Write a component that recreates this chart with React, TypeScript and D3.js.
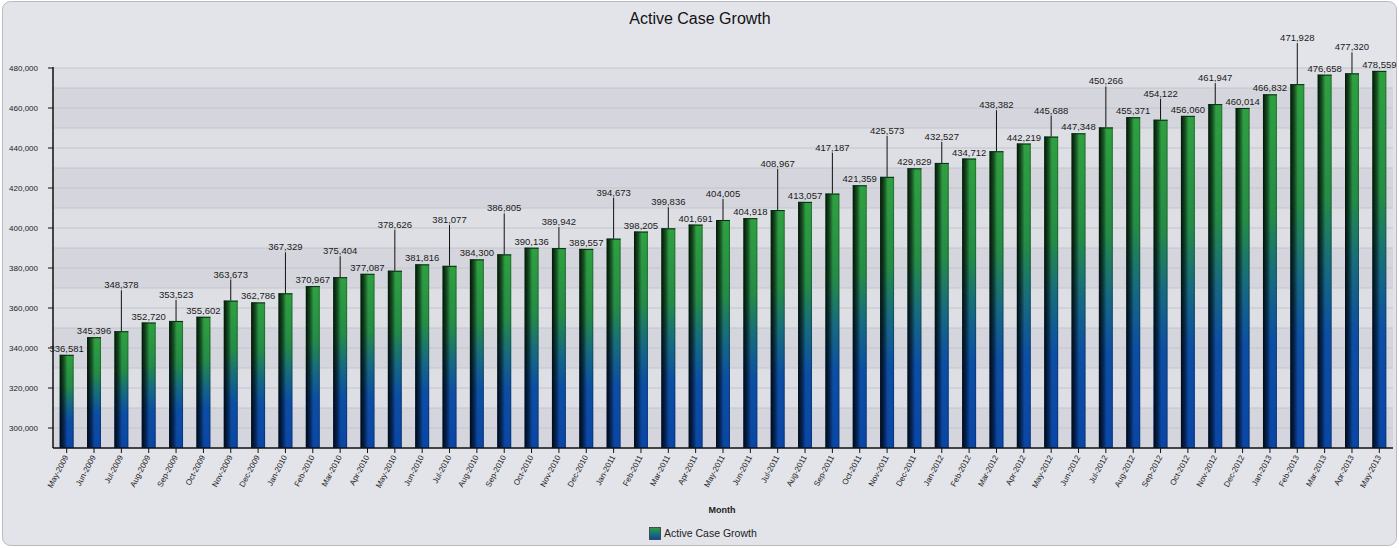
import React from "react";
import * as d3 from "d3";

const months: string[] = [
  "May-2009","Jun-2009","Jul-2009","Aug-2009","Sep-2009","Oct-2009","Nov-2009","Dec-2009",
  "Jan-2010","Feb-2010","Mar-2010","Apr-2010","May-2010","Jun-2010","Jul-2010","Aug-2010","Sep-2010","Oct-2010","Nov-2010","Dec-2010",
  "Jan-2011","Feb-2011","Mar-2011","Apr-2011","May-2011","Jun-2011","Jul-2011","Aug-2011","Sep-2011","Oct-2011","Nov-2011","Dec-2011",
  "Jan-2012","Feb-2012","Mar-2012","Apr-2012","May-2012","Jun-2012","Jul-2012","Aug-2012","Sep-2012","Oct-2012","Nov-2012","Dec-2012",
  "Jan-2013","Feb-2013","Mar-2013","Apr-2013","May-2013",
];

const activeCases: number[] = [
  336581, 345396, 348378, 352720, 353523, 355602, 363673, 362786,
  367329, 370967, 375404, 377087, 378626, 381816, 381077, 384300, 386805, 390136, 389942, 389557,
  394673, 398205, 399836, 401691, 404005, 404918, 408967, 413057, 417187, 421359, 425573, 429829,
  432527, 434712, 438382, 442219, 445688, 447348, 450266, 455371, 454122, 456060, 461947, 460014,
  466832, 471928, 476658, 477320, 478559,
];

// label stacking tier (0 = directly on the bar, 1/2 = lifted with leader line)
const labelTier: number[] = [
  0, 0, 2, 0, 1, 0, 1, 0,
  2, 0, 1, 0, 2, 0, 2, 0, 2, 0, 1, 0,
  2, 0, 1, 0, 1, 0, 2, 0, 2, 0, 2, 0,
  1, 0, 2, 0, 1, 0, 2, 0, 1, 0, 1, 0,
  0, 2, 0, 1, 0,
];

const yTicks: number[] = [300000, 320000, 340000, 360000, 380000, 400000, 420000, 440000, 460000, 480000];

const title = "Active Case Growth";
const xTitle = "Month";
const seriesName = "Active Case Growth";

const W = 1399;
const H = 548;
const plot = { left: 53, right: 1393, top: 68, bottom: 448 };
const FONT = "'Liberation Sans', Arial, sans-serif";

export default function App() {
  const x = d3.scaleBand<string>().domain(months).range([plot.left, plot.right]).paddingInner(0.49).paddingOuter(0.245);
  const y = d3.scaleLinear().domain([290000, 480000]).range([plot.bottom, plot.top]);
  const fmt = d3.format(",");
  const bands = d3.range(290000, 480000, 10000);
  const lifts = [0, 20, 40];

  return (
    <svg width={W} height={H} style={{ position: "absolute", left: 0, top: 0 }}>
      <defs>
        <linearGradient id="barV" x1="0" y1="0" x2="0" y2="1">
          <stop offset="0%" stopColor="#2fa040" />
          <stop offset="33%" stopColor="#248c46" />
          <stop offset="52%" stopColor="#166a80" />
          <stop offset="70%" stopColor="#0c4ea4" />
          <stop offset="100%" stopColor="#0a46a6" />
        </linearGradient>
        <linearGradient id="barH" x1="0" y1="0" x2="1" y2="0">
          <stop offset="0%" stopColor="#000" stopOpacity="0.88" />
          <stop offset="30%" stopColor="#000" stopOpacity="0.5" />
          <stop offset="55%" stopColor="#000" stopOpacity="0" />
          <stop offset="88%" stopColor="#000" stopOpacity="0" />
          <stop offset="100%" stopColor="#000" stopOpacity="0.35" />
        </linearGradient>
        <linearGradient id="legendG" x1="0" y1="0" x2="0" y2="1">
          <stop offset="0%" stopColor="#2f9d3f" />
          <stop offset="100%" stopColor="#0a46a6" />
        </linearGradient>
      </defs>
      <rect x={0} y={0} width={W} height={H} fill="#ffffff" />
      <rect x={2.5} y={1.5} width={W - 5} height={H - 4} rx={8} fill="#e3e4ea" stroke="#b9bac0" />

      {/* plot bands */}
      {bands.map((b) => (
        <rect key={b} x={plot.left} y={y(b + 10000)} width={plot.right - plot.left} height={y(b) - y(b + 10000)}
          fill={Math.floor((b - 290000) / 20000) % 2 === 0 ? "#d5d6dd" : "#dedfe5"} />
      ))}
      {bands.map((b) => (
        <line key={"g" + b} x1={plot.left} x2={plot.right} y1={y(b + 10000)} y2={y(b + 10000)} stroke="#c3c4cc" strokeWidth={1} />
      ))}

      <text x={700} y={24} textAnchor="middle" fontFamily={FONT} fontSize={16} fill="#111">{title}</text>

      {/* bars */}
      {months.map((m, i) => {
        const bx = x(m)!;
        const bw = x.bandwidth();
        const top = y(activeCases[i]);
        return (
          <g key={m}>
            <rect x={bx} y={top} width={bw} height={plot.bottom - top} fill="url(#barV)" />
            <rect x={bx} y={top} width={bw} height={plot.bottom - top} fill="url(#barH)" />
            <line x1={bx} x2={bx + bw} y1={top + 0.5} y2={top + 0.5} stroke="#0c2a18" strokeWidth={1} />
          </g>
        );
      })}

      {/* axes */}
      <line x1={plot.left} x2={plot.left} y1={plot.top - 1} y2={plot.bottom} stroke="#111" strokeWidth={1.5} />
      <line x1={plot.left} x2={plot.right} y1={plot.bottom} y2={plot.bottom} stroke="#111" strokeWidth={1.5} />
      {yTicks.map((t) => (
        <g key={t}>
          <line x1={plot.left - 5} x2={plot.left} y1={y(t)} y2={y(t)} stroke="#111" />
          <text x={plot.left - 15} y={y(t) + 3} textAnchor="end" fontFamily={FONT} fontSize={8} fill="#222">{fmt(t)}</text>
        </g>
      ))}
      {months.map((m) => {
        const cx = x(m)! + x.bandwidth() / 2;
        return (
          <g key={"x" + m}>
            <line x1={cx} x2={cx} y1={plot.bottom} y2={plot.bottom + 5} stroke="#111" />
            <text transform={`translate(${cx + 2},${plot.bottom + 9}) rotate(-62)`} textAnchor="end" fontFamily={FONT} fontSize={8} fill="#222">{m}</text>
          </g>
        );
      })}

      {/* value labels */}
      {months.map((m, i) => {
        const cx = x(m)! + x.bandwidth() / 2;
        const top = y(activeCases[i]);
        const lift = lifts[labelTier[i]];
        const base = top - 3 - lift;
        return (
          <g key={"l" + m}>
            {lift > 0 && <line x1={cx} x2={cx} y1={top} y2={base + 2} stroke="#111" strokeWidth={1} />}
            <text x={cx} y={base} textAnchor="middle" fontFamily={FONT} fontSize={9.5} fill="#1a1a1a">{fmt(activeCases[i])}</text>
          </g>
        );
      })}

      <text x={722} y={513} textAnchor="middle" fontFamily={FONT} fontSize={9} fontWeight="bold" fill="#222">{xTitle}</text>
      <rect x={649.5} y={527.5} width={11} height={12} fill="url(#legendG)" stroke="#333" strokeWidth={0.8} />
      <text x={664} y={537} fontFamily={FONT} fontSize={10.5} fill="#222">{seriesName}</text>
    </svg>
  );
}
